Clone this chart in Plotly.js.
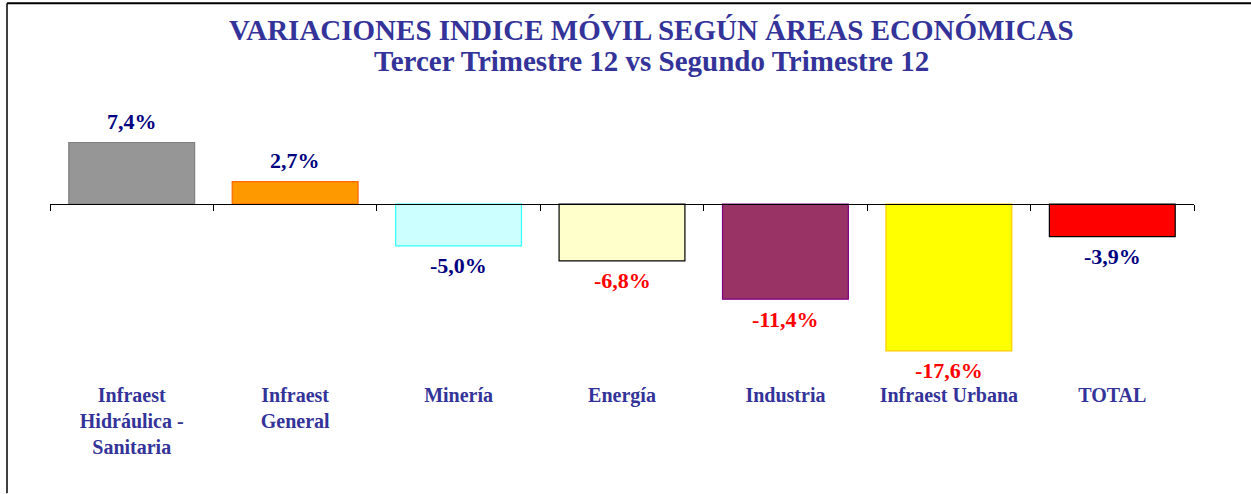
<!DOCTYPE html>
<html>
<head>
<meta charset="utf-8">
<script src="https://cdn.plot.ly/plotly-3.0.1.min.js"></script>
<style>html,body{margin:0;padding:0;background:#fff;}#chart{width:1251px;height:494px;}</style>
</head>
<body>
<div id="chart"></div>
<script>
var categories = ["Infraest<br>Hidráulica -<br>Sanitaria", "Infraest<br>General", "Minería", "Energía", "Industria", "Infraest Urbana", "TOTAL"];
var values = [7.4, 2.7, -5.0, -6.8, -11.4, -17.6, -3.9];
var fillColors = ["#969696", "#FF9900", "#CCFFFF", "#FFFFCC", "#993366", "#FFFF00", "#FF0000"];
var lineColors = ["#808080", "#FF6600", "#33FFFF", "#000000", "#800080", "#FFCC00", "#000000"];
var labelColors = ["#000080", "#000080", "#000080", "#FF0000", "#FF0000", "#FF0000", "#000080"];
var boundaries = [-0.5, 0.5, 1.5, 2.5, 3.5, 4.5, 5.5, 6.5];

var yMin = -20.5, yMax = 12.5;
var serif = "Liberation Serif, Times New Roman, serif";

var trace = {
  type: "bar",
  x: categories,
  y: values,
  marker: {color: fillColors, line: {color: lineColors, width: 1.2}},
  hoverinfo: "skip",
  showlegend: false
};

var annotations = values.map(function (v, i) {
  return {
    x: categories[i], y: v, xref: "x", yref: "y",
    text: v.toFixed(1).replace(".", ",") + "%",
    showarrow: false,
    yshift: v >= 0 ? 21 : -20,
    font: {family: serif, size: 22, color: labelColors[i], weight: "bold"}
  };
});
annotations.push({
  xref: "paper", yref: "paper", x: 0.526, y: 1.254, xanchor: "center", yanchor: "middle",
  text: "VARIACIONES INDICE MÓVIL SEGÚN ÁREAS ECONÓMICAS", showarrow: false,
  font: {family: serif, size: 29, color: "#333399", weight: "bold"}
});
annotations.push({
  xref: "paper", yref: "paper", x: 0.526, y: 1.143, xanchor: "center", yanchor: "middle",
  text: "Tercer Trimestre 12 vs Segundo Trimestre 12", showarrow: false,
  font: {family: serif, size: 29, color: "#333399", weight: "bold"}
});

var layout = {
  width: 1251, height: 494,
  margin: {l: 50, r: 57, t: 100, b: 118.5},
  paper_bgcolor: "#fff", plot_bgcolor: "#fff",
  bargap: 0.23,
  xaxis: {
    type: "category", showline: false, ticks: "", showgrid: false, zeroline: false,
    range: [-0.5, 6.5], ticklabelstandoff: 6,
    tickfont: {family: serif, size: 20, color: "#333399", weight: "bold"}
  },
  xaxis2: {
    overlaying: "x", anchor: "free", position: (0 - yMin) / (yMax - yMin),
    range: [-0.5, 6.5], showline: true, linecolor: "#000", linewidth: 1,
    tickmode: "array", tickvals: boundaries, ticks: "outside", ticklen: 6, tickcolor: "#000",
    showticklabels: false, showgrid: false, zeroline: false
  },
  yaxis: {range: [yMin, yMax], visible: false, showgrid: false, zeroline: false},
  annotations: annotations,
  shapes: [
    {type: "line", xref: "paper", yref: "paper", x0: (7 - 50) / 1144, x1: (1251 - 50) / 1144, y0: 1 + 97 / 275.5, y1: 1 + 97 / 275.5, line: {color: "#000", width: 2}},
    {type: "line", xref: "paper", yref: "paper", x0: (7 - 50) / 1144, x1: (7 - 50) / 1144, y0: 1 + 97 / 275.5, y1: -118.5 / 275.5, line: {color: "#000", width: 1.5}}
  ]
};

var axisTrace = {type: "scatter", x: [-0.5, 6.5], y: [0, 0], xaxis: "x2", yaxis: "y", mode: "none", hoverinfo: "skip", showlegend: false};

Plotly.newPlot("chart", [trace, axisTrace], layout, {displayModeBar: false, staticPlot: true});
</script>
</body>
</html>
